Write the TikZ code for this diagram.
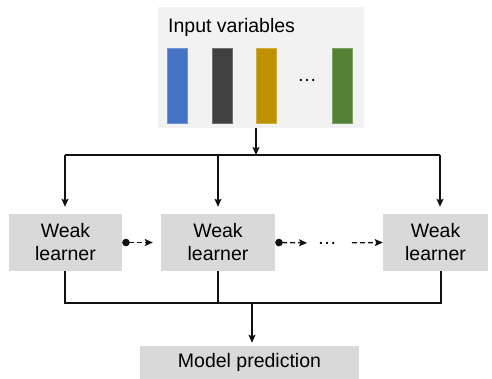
\documentclass[tikz,border=0pt]{standalone}
\usepackage{fontspec}
\setmainfont{Liberation Sans}
\usetikzlibrary{arrows.meta}
\definecolor{inbg}{HTML}{F2F2F2}
\definecolor{lrnbg}{HTML}{D9D9D9}
\definecolor{cblue}{HTML}{4472C4}
\definecolor{cdark}{HTML}{404040}
\definecolor{cgold}{HTML}{BF9000}
\definecolor{cgreen}{HTML}{538135}
\definecolor{lncol}{HTML}{111111}
\tikzset{
  panel/.style={fill=inbg, draw=none, minimum width=206pt, minimum height=121pt, inner sep=0pt},
  bar/.style={fill=#1, draw=#1!75!white, line width=0.6pt, minimum width=20pt, minimum height=75pt, inner sep=0pt},
  learner/.style={fill=lrnbg, draw=none, minimum height=57pt, inner sep=0pt, align=center,
    font=\fontsize{19.5}{23}\selectfont},
  predbox/.style={fill=lrnbg, draw=none, minimum width=219pt, minimum height=33pt, inner sep=0pt,
    font=\fontsize{19.5}{23}\selectfont},
  label/.style={inner sep=0pt, font=\fontsize{19.5}{23}\selectfont},
  conn/.style={draw=lncol, line width=1.3pt},
  arr/.style={conn, -{Stealth[length=8pt,width=7pt,inset=1.5pt]}},
  dasharr/.style={conn, dash pattern=on 5pt off 3pt, -{Stealth[length=8pt,width=7pt,inset=1.5pt]}},
  dotarr/.style={dasharr, {Circle[length=7.5pt]}-{Stealth[length=8pt,width=7pt,inset=1.5pt]}},
}
\begin{document}
\begin{tikzpicture}[x=1pt,y=-1pt]
\useasboundingbox (0,0) rectangle (492,379);
% input panel
\node[panel] (input) at (261,67.5) {};
\node[label, anchor=base west] (intext) at (168,33) {Input variables};
\node[bar=cblue] (b1) at (177,85.5) {};
\node[bar=cdark] (b2) at (222,85.5) {};
\node[bar=cgold] (b3) at (266.5,85.5) {};
\node[label] (bdots) at (307,80) {…};
\node[bar=cgreen] (b4) at (342,85.5) {};
% learners
\node[learner, minimum width=113pt] (L1) at (65.5,242.5) {Weak\\learner};
\node[learner, minimum width=114pt] (L2) at (218,242.5) {Weak\\learner};
\node[learner, minimum width=105pt] (L3) at (435.5,242.5) {Weak\\learner};
\node[label] (ell) at (327,243) {…};
% prediction
\node[predbox] (pred) at (249.5,362.5) {Model prediction};
% top distribution
\coordinate (top) at (256,155);
\coordinate (tl) at (65,155);
\coordinate (tr) at (440,155);
\draw[arr] (input.south -| top) -- (top);
\draw[conn] (tl) -- (tr);
\draw[arr, shorten >=7pt] (tl) -- (L1.north -| tl);
\draw[arr, shorten >=7pt] (L2.north |- tl) -- (L2.north);
\draw[arr, shorten >=7pt] (tr) -- (L3.north -| tr);
% sequential
\draw[dotarr, shorten >=8pt] (L1.east) -- (L2.west);
\draw[dotarr, shorten >=10pt] (L2.east) -- (ell.west);
\draw[dasharr, shorten <=15pt] (ell.east) -- (L3.west);
% bottom aggregation
\coordinate (bl) at (65,303);
\coordinate (br) at (441,303);
\coordinate (bm) at (252,303);
\draw[conn] (L1.south -| bl) -- (bl) -- (br) -- (L3.south -| br);
\draw[conn] (L2.south) -- (L2.south |- bl);
\draw[arr, shorten >=3pt] (bm) -- (pred.north -| bm);
\end{tikzpicture}
\end{document}
